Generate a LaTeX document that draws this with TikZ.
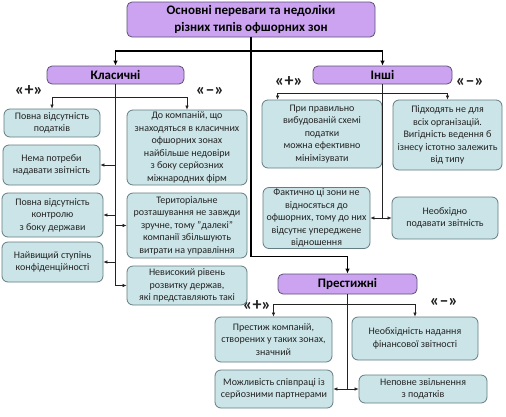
\documentclass[tikz,border=0pt]{standalone}
\usepackage{fontspec}
\setmainfont{Carlito}
\usetikzlibrary{arrows.meta}
\usetikzlibrary{positioning}
\definecolor{violetfill}{RGB}{203,163,240}
\definecolor{violetedge}{RGB}{95,80,120}
\definecolor{tealfill}{RGB}{203,228,231}
\definecolor{tealedge}{RGB}{100,125,130}
\definecolor{inkgray}{RGB}{35,35,35}

\begin{document}
\begin{tikzpicture}[x=1pt,y=-1pt]
		  \tikzset{
			headbox/.style={draw=violetedge,fill=violetfill,rounded corners=5pt,line width=0.8pt,
			  align=center,inner sep=1pt,text=black,font=\fontsize{13}{17}\selectfont\bfseries},
			infobox/.style={draw=tealedge,fill=tealfill,rounded corners=6pt,line width=0.8pt,
			  align=center,inner sep=1pt,text=inkgray,font=\fontsize{10}{12.5}\selectfont},
			link/.style={line width=0.6pt,draw=inkgray},
			linkarr/.style={link,-{Latex[length=4pt,width=3.5pt]}},
			trunk/.style={line width=1.5pt,draw=black},
			trunkarr/.style={trunk,-{Latex[length=5pt,width=4.5pt]}},
			sign/.style={inner sep=0pt,text=inkgray,font=\fontsize{18}{18}\selectfont\bfseries},
		  }
		  \fill[white] (0,0) rectangle (506,416);
		  \useasboundingbox (0,0) rectangle (506,416);
		  %TITLE
		  \node[headbox,minimum width=248pt,minimum height=35pt] (title) at (251,19.5) {Основні переваги та недоліки\\різних типів офшорних зон};
		  %GROUPS
		  \node[headbox,minimum width=137pt,minimum height=18pt] (klas) at (115.5,75) {Класичні};
		  \node[headbox,minimum width=139pt,minimum height=18pt] (inshi) at (382.5,75) {Інші};
		  \node[headbox,minimum width=139pt,minimum height=20pt] (prest) at (347.5,284) {Престижні};
		  %SIGNS
		  \node[sign] (kplus) at (29,91) {«+»};
		  \node[sign] (kminus) at (210,91) {«–»};
		  \node[sign] (iplus) at (289,82) {«+»};
		  \node[sign] (iminus) at (470,82) {«–»};
		  \node[sign] (pplus) at (257,306) {«+»};
		  \node[sign] (pminus) at (444,302) {«–»};
		  %CLASSIC BOXES
		  \node[infobox,minimum width=96pt,minimum height=28pt] (k1) at (52,123) {Повна відсутність\\податків};
		  \node[infobox,minimum width=97pt,minimum height=40pt] (k2) at (51.5,165) {Нема потреби\\надавати звітність};
		  \node[infobox,minimum width=101pt,minimum height=44pt] (k3) at (52.5,215) {Повна відсутність\\контролю\\з боку держави};
		  \node[infobox,minimum width=101pt,minimum height=40pt] (k4) at (52.5,262) {Найвищий ступінь\\конфіденційності};
		  \node[infobox,minimum width=120pt,minimum height=75pt] (k5) at (187,147.5) {До компаній, що\\знаходяться в класичних\\офшорних зонах\\найбільше недовіри\\з боку серйозних\\міжнародних фірм};
		  \node[infobox,minimum width=120pt,minimum height=65pt] (k6) at (187,225.5) {Територіальне\\розташування не завжди\\зручне, тому "далекі"\\компанії збільшують\\витрати на управління};
		  \node[infobox,minimum width=120pt,minimum height=39pt] (k7) at (187,285.5) {Невисокий рівень\\розвитку держав,\\які представляють такі};
		  %OTHER BOXES
		  \node[infobox,minimum width=120pt,minimum height=68pt] (i1) at (322,134) {При правильно\\вибудованій схемі\\податки\\можна ефективно\\мінімізувати};
		  \node[infobox,minimum width=109pt,minimum height=70pt] (i2) at (447.5,135) {Підходять не для\\всіх організацій.\\Вигідність ведення б\\ізнесу істотно залежить\\від типу};
		  \node[infobox,minimum width=107pt,minimum height=61pt] (i3) at (316.5,218) {Фактично ці зони не\\відносяться до\\офшорних, тому до них\\відсутнє упереджене\\відношення};
		  \node[infobox,minimum width=106pt,minimum height=42pt] (i4) at (445,218) {Необхідно\\подавати звітність};
		  %PRESTIGE BOXES
		  \node[infobox,minimum width=117pt,minimum height=45pt] (p1) at (273.5,339.5) {Престиж компаній,\\створених у таких зонах,\\значний};
		  \node[infobox,minimum width=118pt,minimum height=38pt] (p2) at (274,389) {Можливість співпраці із\\серйозними партнерами};
		  \node[infobox,minimum width=126pt,minimum height=43pt] (p3) at (415,338.5) {Необхідність надання\\фінансової звітності};
		  \node[infobox,minimum width=128pt,minimum height=28pt] (p4) at (423,389) {Неповне звільнення\\з податків};
		  %TRUNK
		  \coordinate (split) at (251,51);
		  \draw[trunk] (title.south) -- (split);
		  \draw[trunkarr] (split) -| (klas.north);
		  \draw[trunkarr] (split) -| (inshi.north);
		  \draw[trunkarr] (split) |- ([yshift=17pt]prest.north) -- (prest.north);
		  %CLASSIC LINKS
		  \coordinate (kfork) at (115.5,97);
		  \draw[link] (klas.south) -- (klas.south |- k7.west);
		  \draw[linkarr] (kfork) -| (k1.north);
		  \draw[linkarr] (kfork) -| (k5.north);
		  \foreach \b in {k2,k3,k4}{
			\draw[linkarr] (klas.south |- \b.east) -- (\b.east);
		  }
		  \foreach \b in {k6,k7}{
			\draw[linkarr] (klas.south |- \b.west) -- (\b.west);
		  }
		  %OTHER LINKS
		  \coordinate (ifork) at (382.5,93);
		  \draw[link] (inshi.south) -- (inshi.south |- i4.west);
		  \draw[linkarr] (ifork) -| ([xshift=16pt]i1.north west);
		  \draw[linkarr] (ifork) -| (i2.north);
		  \draw[linkarr] (inshi.south |- i3.east) -- (i3.east);
		  \draw[linkarr] (inshi.south |- i4.west) -- (i4.west);
		  %PRESTIGE LINKS
		  \coordinate (pfork) at (347.5,304);
		  \draw[link] (prest.south) -- (prest.south |- p2.east);
		  \draw[linkarr] (pfork) -| (p1.north);
		  \draw[linkarr] (pfork) -| (p3.north);
		  \draw[linkarr] (prest.south |- p2.east) -- (p2.east);
		  \draw[linkarr] (prest.south |- p4.west) -- (p4.west);
		  \end{tikzpicture}
\end{document}
